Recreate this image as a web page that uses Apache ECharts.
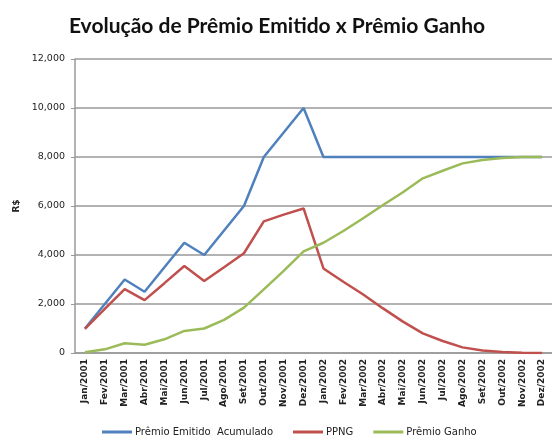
<!DOCTYPE html>
<html>
<head>
<meta charset="utf-8">
<script src="https://cdn.jsdelivr.net/npm/echarts@6/dist/echarts.min.js"></script>
<style>html,body{margin:0;padding:0;background:#fff}#c{width:552px;height:443px}</style>
</head>
<body>
<div id="c"></div>
<script>
const categories = ["Jan/2001","Fev/2001","Mar/2001","Abr/2001","Mai/2001","Jun/2001","Jul/2001","Ago/2001","Set/2001","Out/2001","Nov/2001","Dez/2001",
  "Jan/2002","Fev/2002","Mar/2002","Abr/2002","Mai/2002","Jun/2002","Jul/2002","Ago/2002","Set/2002","Out/2002","Nov/2002","Dez/2002"];
const premioEmitido = [1000,2000,3000,2500,3500,4500,4000,5000,6000,8000,9000,10000,8000,8000,8000,8000,8000,8000,8000,8000,8000,8000,8000,8000];
const ppng = [980,1800,2610,2160,2850,3550,2940,3500,4070,5370,5650,5900,3450,2910,2390,1820,1280,800,490,230,100,40,10,0];
const premioGanho = [30,150,400,340,560,900,1000,1350,1850,2600,3350,4150,4500,4980,5500,6040,6560,7130,7440,7740,7880,7960,8000,8000];
const yTicks = {min:0, max:12000, interval:2000};
const seriesNames = ["Prêmio Emitido  Acumulado","PPNG","Prêmio Ganho"];

const chart = echarts.init(document.getElementById('c'));
chart.setOption({
  animation:false,
  backgroundColor:'#fff',
  title:{text:'Evolução de Prêmio Emitido x Prêmio Ganho', left:272, textAlign:'center', top:11,
    textStyle:{fontFamily:'Lato', fontWeight:'bold', fontSize:21, color:'#111'}},
  legend:{bottom:1, left:97, itemWidth:30, itemHeight:3, itemGap:20, icon:'rect',
    textStyle:{fontFamily:'DejaVu Sans', fontSize:10, color:'#222', padding:[0,0,0,-2]},
    data:seriesNames},
  grid:{left:75, top:59, width:478, bottom:90, containLabel:false},
  xAxis:{type:'category', data:categories, boundaryGap:true,
    axisLine:{lineStyle:{color:'#999', width:1.5}},
    axisTick:{length:4, lineStyle:{color:'#999'}},
    axisLabel:{rotate:90, interval:0, margin:6, fontFamily:'DejaVu Sans', fontWeight:'bold', fontSize:9, color:'#222'}},
  yAxis:{type:'value', min:yTicks.min, max:yTicks.max, interval:yTicks.interval,
    name:'R$', nameLocation:'middle', nameGap:52, nameRotate:90,
    nameTextStyle:{fontFamily:'DejaVu Sans', fontWeight:'bold', fontSize:9, color:'#222'},
    axisLine:{show:true, lineStyle:{color:'#999', width:1.5}},
    axisTick:{show:true, length:4, lineStyle:{color:'#999'}},
    splitLine:{lineStyle:{color:'#999', width:1.5}},
    axisLabel:{margin:10, fontFamily:'DejaVu Sans', fontSize:9.5, color:'#222',
      formatter:v=>v.toLocaleString('en-US')}},
  series:[
    {name:seriesNames[0], type:'line', data:premioEmitido, showSymbol:false, color:'#4F81BD', lineStyle:{width:2.5}},
    {name:seriesNames[1], type:'line', data:ppng, showSymbol:false, color:'#C0504D', lineStyle:{width:2.5}},
    {name:seriesNames[2], type:'line', data:premioGanho, showSymbol:false, color:'#9BBB59', lineStyle:{width:2.5}}
  ]
});
</script>
</body>
</html>
